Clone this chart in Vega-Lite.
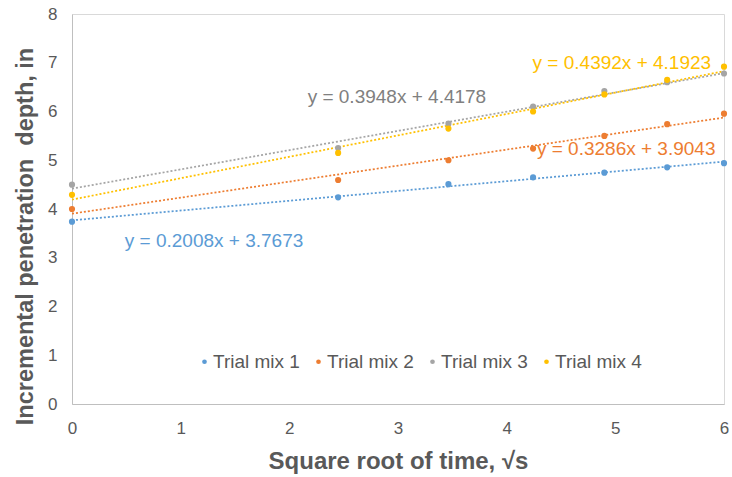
{
  "$schema": "https://vega.github.io/schema/vega-lite/v6.json",
  "width": 652,
  "height": 390,
  "autosize": {"type": "none"},
  "padding": {"left": 72, "top": 14, "right": 8, "bottom": 73},
  "background": "white",
  "config": {
    "font": "Liberation Sans",
    "view": {"stroke": "#d9d9d9", "strokeWidth": 1}
  },
  "datasets": {
    "points": [
      {"mix": "Trial mix 1", "x": 0, "y": 3.74},
      {"mix": "Trial mix 1", "x": 2.449, "y": 4.24},
      {"mix": "Trial mix 1", "x": 3.464, "y": 4.51},
      {"mix": "Trial mix 1", "x": 4.243, "y": 4.65},
      {"mix": "Trial mix 1", "x": 4.899, "y": 4.745},
      {"mix": "Trial mix 1", "x": 5.477, "y": 4.855},
      {"mix": "Trial mix 1", "x": 6, "y": 4.94},
      {"mix": "Trial mix 2", "x": 0, "y": 4.0},
      {"mix": "Trial mix 2", "x": 2.449, "y": 4.595},
      {"mix": "Trial mix 2", "x": 3.464, "y": 5.0},
      {"mix": "Trial mix 2", "x": 4.243, "y": 5.24},
      {"mix": "Trial mix 2", "x": 4.899, "y": 5.5},
      {"mix": "Trial mix 2", "x": 5.477, "y": 5.74},
      {"mix": "Trial mix 2", "x": 6, "y": 5.955},
      {"mix": "Trial mix 3", "x": 0, "y": 4.5},
      {"mix": "Trial mix 3", "x": 2.449, "y": 5.25},
      {"mix": "Trial mix 3", "x": 3.464, "y": 5.75},
      {"mix": "Trial mix 3", "x": 4.243, "y": 6.1},
      {"mix": "Trial mix 3", "x": 4.899, "y": 6.42},
      {"mix": "Trial mix 3", "x": 5.477, "y": 6.6},
      {"mix": "Trial mix 3", "x": 6, "y": 6.78},
      {"mix": "Trial mix 4", "x": 0, "y": 4.29},
      {"mix": "Trial mix 4", "x": 2.449, "y": 5.15},
      {"mix": "Trial mix 4", "x": 3.464, "y": 5.65},
      {"mix": "Trial mix 4", "x": 4.243, "y": 6.0},
      {"mix": "Trial mix 4", "x": 4.899, "y": 6.35},
      {"mix": "Trial mix 4", "x": 5.477, "y": 6.65},
      {"mix": "Trial mix 4", "x": 6, "y": 6.92}
    ],
    "trends": [
      {"mix": "Trial mix 1", "x": 0, "y": 3.7673},
      {"mix": "Trial mix 1", "x": 6, "y": 4.9721},
      {"mix": "Trial mix 2", "x": 0, "y": 3.9043},
      {"mix": "Trial mix 2", "x": 6, "y": 5.8759},
      {"mix": "Trial mix 3", "x": 0, "y": 4.4178},
      {"mix": "Trial mix 3", "x": 6, "y": 6.7866},
      {"mix": "Trial mix 4", "x": 0, "y": 4.1923},
      {"mix": "Trial mix 4", "x": 6, "y": 6.8275}
    ],
    "equations": [
      {"mix": "Trial mix 1", "x": 1.307, "y": 3.344, "label": "y = 0.2008x + 3.7673"},
      {"mix": "Trial mix 2", "x": 5.10, "y": 5.23, "label": "y = 0.3286x + 3.9043"},
      {"mix": "Trial mix 3", "x": 2.99, "y": 6.29, "label": "y = 0.3948x + 4.4178"},
      {"mix": "Trial mix 4", "x": 5.06, "y": 6.99, "label": "y = 0.4392x + 4.1923"}
    ]
  },
  "encoding": {
    "x": {
      "field": "x",
      "type": "quantitative",
      "scale": {"domain": [0, 6], "nice": false, "zero": false},
      "axis": {
        "values": [0, 1, 2, 3, 4, 5, 6],
        "grid": false,
        "ticks": false,
        "domainColor": "#bfbfbf",
        "labelFont": "Liberation Sans",
        "labelFontSize": 17,
        "labelColor": "#595959",
        "labelPadding": 16,
        "labelFlush": false,
        "title": "Square root of time, √s",
        "titleFont": "Liberation Sans",
        "titleFontSize": 24,
        "titleFontWeight": "bold",
        "titleColor": "#595959",
        "titlePadding": 13
      }
    },
    "y": {
      "field": "y",
      "type": "quantitative",
      "scale": {"domain": [0, 8], "nice": false},
      "axis": {
        "values": [0, 1, 2, 3, 4, 5, 6, 7, 8],
        "grid": false,
        "ticks": false,
        "domainColor": "#bfbfbf",
        "labelFont": "Liberation Sans",
        "labelFontSize": 17,
        "labelColor": "#595959",
        "labelPadding": 15,
        "labelFlush": false,
        "title": "Incremental penetration\u00a0 depth, in",
        "titleFont": "Liberation Sans",
        "titleFontSize": 23.5,
        "titleFontWeight": "bold",
        "titleColor": "#595959",
        "titleBaseline": "alphabetic",
        "titleX": -40,
        "titleY": 222
      }
    }
  },
  "layer": [
    {
      "data": {"name": "trends"},
      "mark": {"type": "line", "strokeWidth": 1.75, "strokeDash": [2, 2]},
      "encoding": {
        "color": {
          "field": "mix",
          "type": "nominal",
          "scale": {
            "domain": ["Trial mix 1", "Trial mix 2", "Trial mix 3", "Trial mix 4"],
            "range": ["#5B9BD5", "#ED7D31", "#A5A5A5", "#FFC000"]
          },
          "legend": null
        },
        "detail": {"field": "mix"}
      }
    },
    {
      "data": {"name": "points"},
      "mark": {"type": "point", "shape": "circle", "filled": true, "opacity": 1, "size": 38},
      "encoding": {
        "color": {
          "field": "mix",
          "type": "nominal",
          "scale": {
            "domain": ["Trial mix 1", "Trial mix 2", "Trial mix 3", "Trial mix 4"],
            "range": ["#5B9BD5", "#ED7D31", "#A5A5A5", "#FFC000"]
          },
          "legend": {
            "orient": "none",
            "legendX": 123,
            "legendY": 338,
            "direction": "horizontal",
            "columns": 4,
            "title": null,
            "padding": 0,
            "symbolType": "circle",
            "symbolSize": 22,
            "symbolStrokeWidth": 0,
            "labelFont": "Liberation Sans",
            "labelFontSize": 19,
            "labelColor": "#595959",
            "labelOffset": -1,
            "columnPadding": 9
          }
        }
      }
    },
    {
      "data": {"name": "equations"},
      "mark": {"type": "text", "fontSize": 19, "font": "Liberation Sans", "align": "center", "baseline": "middle"},
      "encoding": {
        "text": {"field": "label"},
        "color": {
          "field": "mix",
          "type": "nominal",
          "scale": {
            "domain": ["Trial mix 1", "Trial mix 2", "Trial mix 3", "Trial mix 4"],
            "range": ["#5B9BD5", "#ED7D31", "#808080", "#FFC000"]
          },
          "legend": null
        }
      }
    }
  ],
  "resolve": {"scale": {"color": "independent"}}
}
